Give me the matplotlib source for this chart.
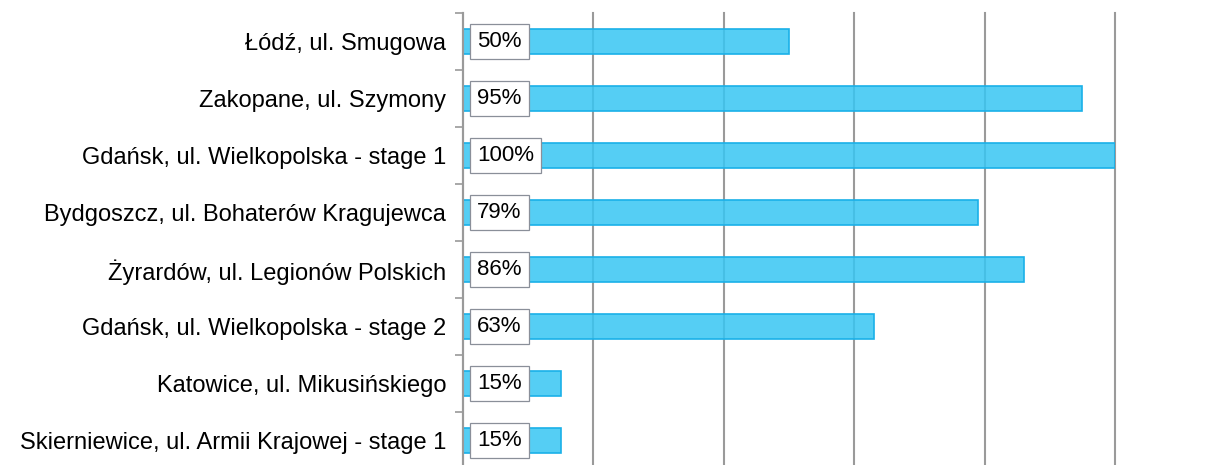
import numpy as np
import matplotlib
matplotlib.use('Agg')
import matplotlib.pyplot as plt

sites = ['Łódź, ul. Smugowa', 'Zakopane, ul. Szymony', 'Gdańsk, ul. Wielkopolska - stage 1',
         'Bydgoszcz, ul. Bohaterów Kragujewca', 'Żyrardów, ul. Legionów Polskich',
         'Gdańsk, ul. Wielkopolska - stage 2', 'Katowice, ul. Mikusińskiego',
         'Skierniewice, ul. Armii Krajowej - stage 1']
progress = [50, 95, 100, 79, 86, 63, 15, 15]

plt.rcParams['font.family'] = ['Liberation Sans', 'DejaVu Sans']

fig = plt.figure(figsize=(12.27, 4.65), dpi=100)
ax = fig.add_axes([463/1227, -4/465, 652/1227, 456/465])

y = np.arange(len(sites))
ax.barh(y, progress, height=0.43, color=(0.216, 0.776, 0.953, 0.85),
        edgecolor='#1AB0E8', linewidth=1.2, zorder=2)

for i, v in enumerate(progress):
  ax.annotate(f'{v}%', xy=(0, i), xytext=(10, 0), textcoords='offset points',
              ha='left', va='center', fontsize=16, zorder=3,
              bbox=dict(boxstyle='square,pad=0.33', fc='white', ec='#8a8f99', lw=0.9))

ax.set_xlim(0, 100)
ax.set_ylim(len(sites) - 0.5, -0.5)
ax.set_xticks(np.arange(0, 101, 20))
ax.tick_params(axis='x', length=0, labelbottom=False)
ax.xaxis.grid(True, color='#9a9a9a', linewidth=1.5, zorder=0)
for gl in ax.get_xgridlines():
  gl.set_clip_on(False)
ax.set_axisbelow(True)

ax.set_yticks(y)
ax.set_yticklabels(sites, fontsize=17)
ax.tick_params(axis='y', which='major', length=0, pad=12)
ax.set_yticks(np.arange(-0.5, len(sites), 1), minor=True)
ax.tick_params(axis='y', which='minor', length=6, width=1.2, color='#9a9a9a')

for s in ['top', 'right', 'bottom']:
  ax.spines[s].set_visible(False)
ax.spines['left'].set_color('#9a9a9a')
ax.spines['left'].set_linewidth(1.5)

plt.savefig('out.png', dpi=100)
